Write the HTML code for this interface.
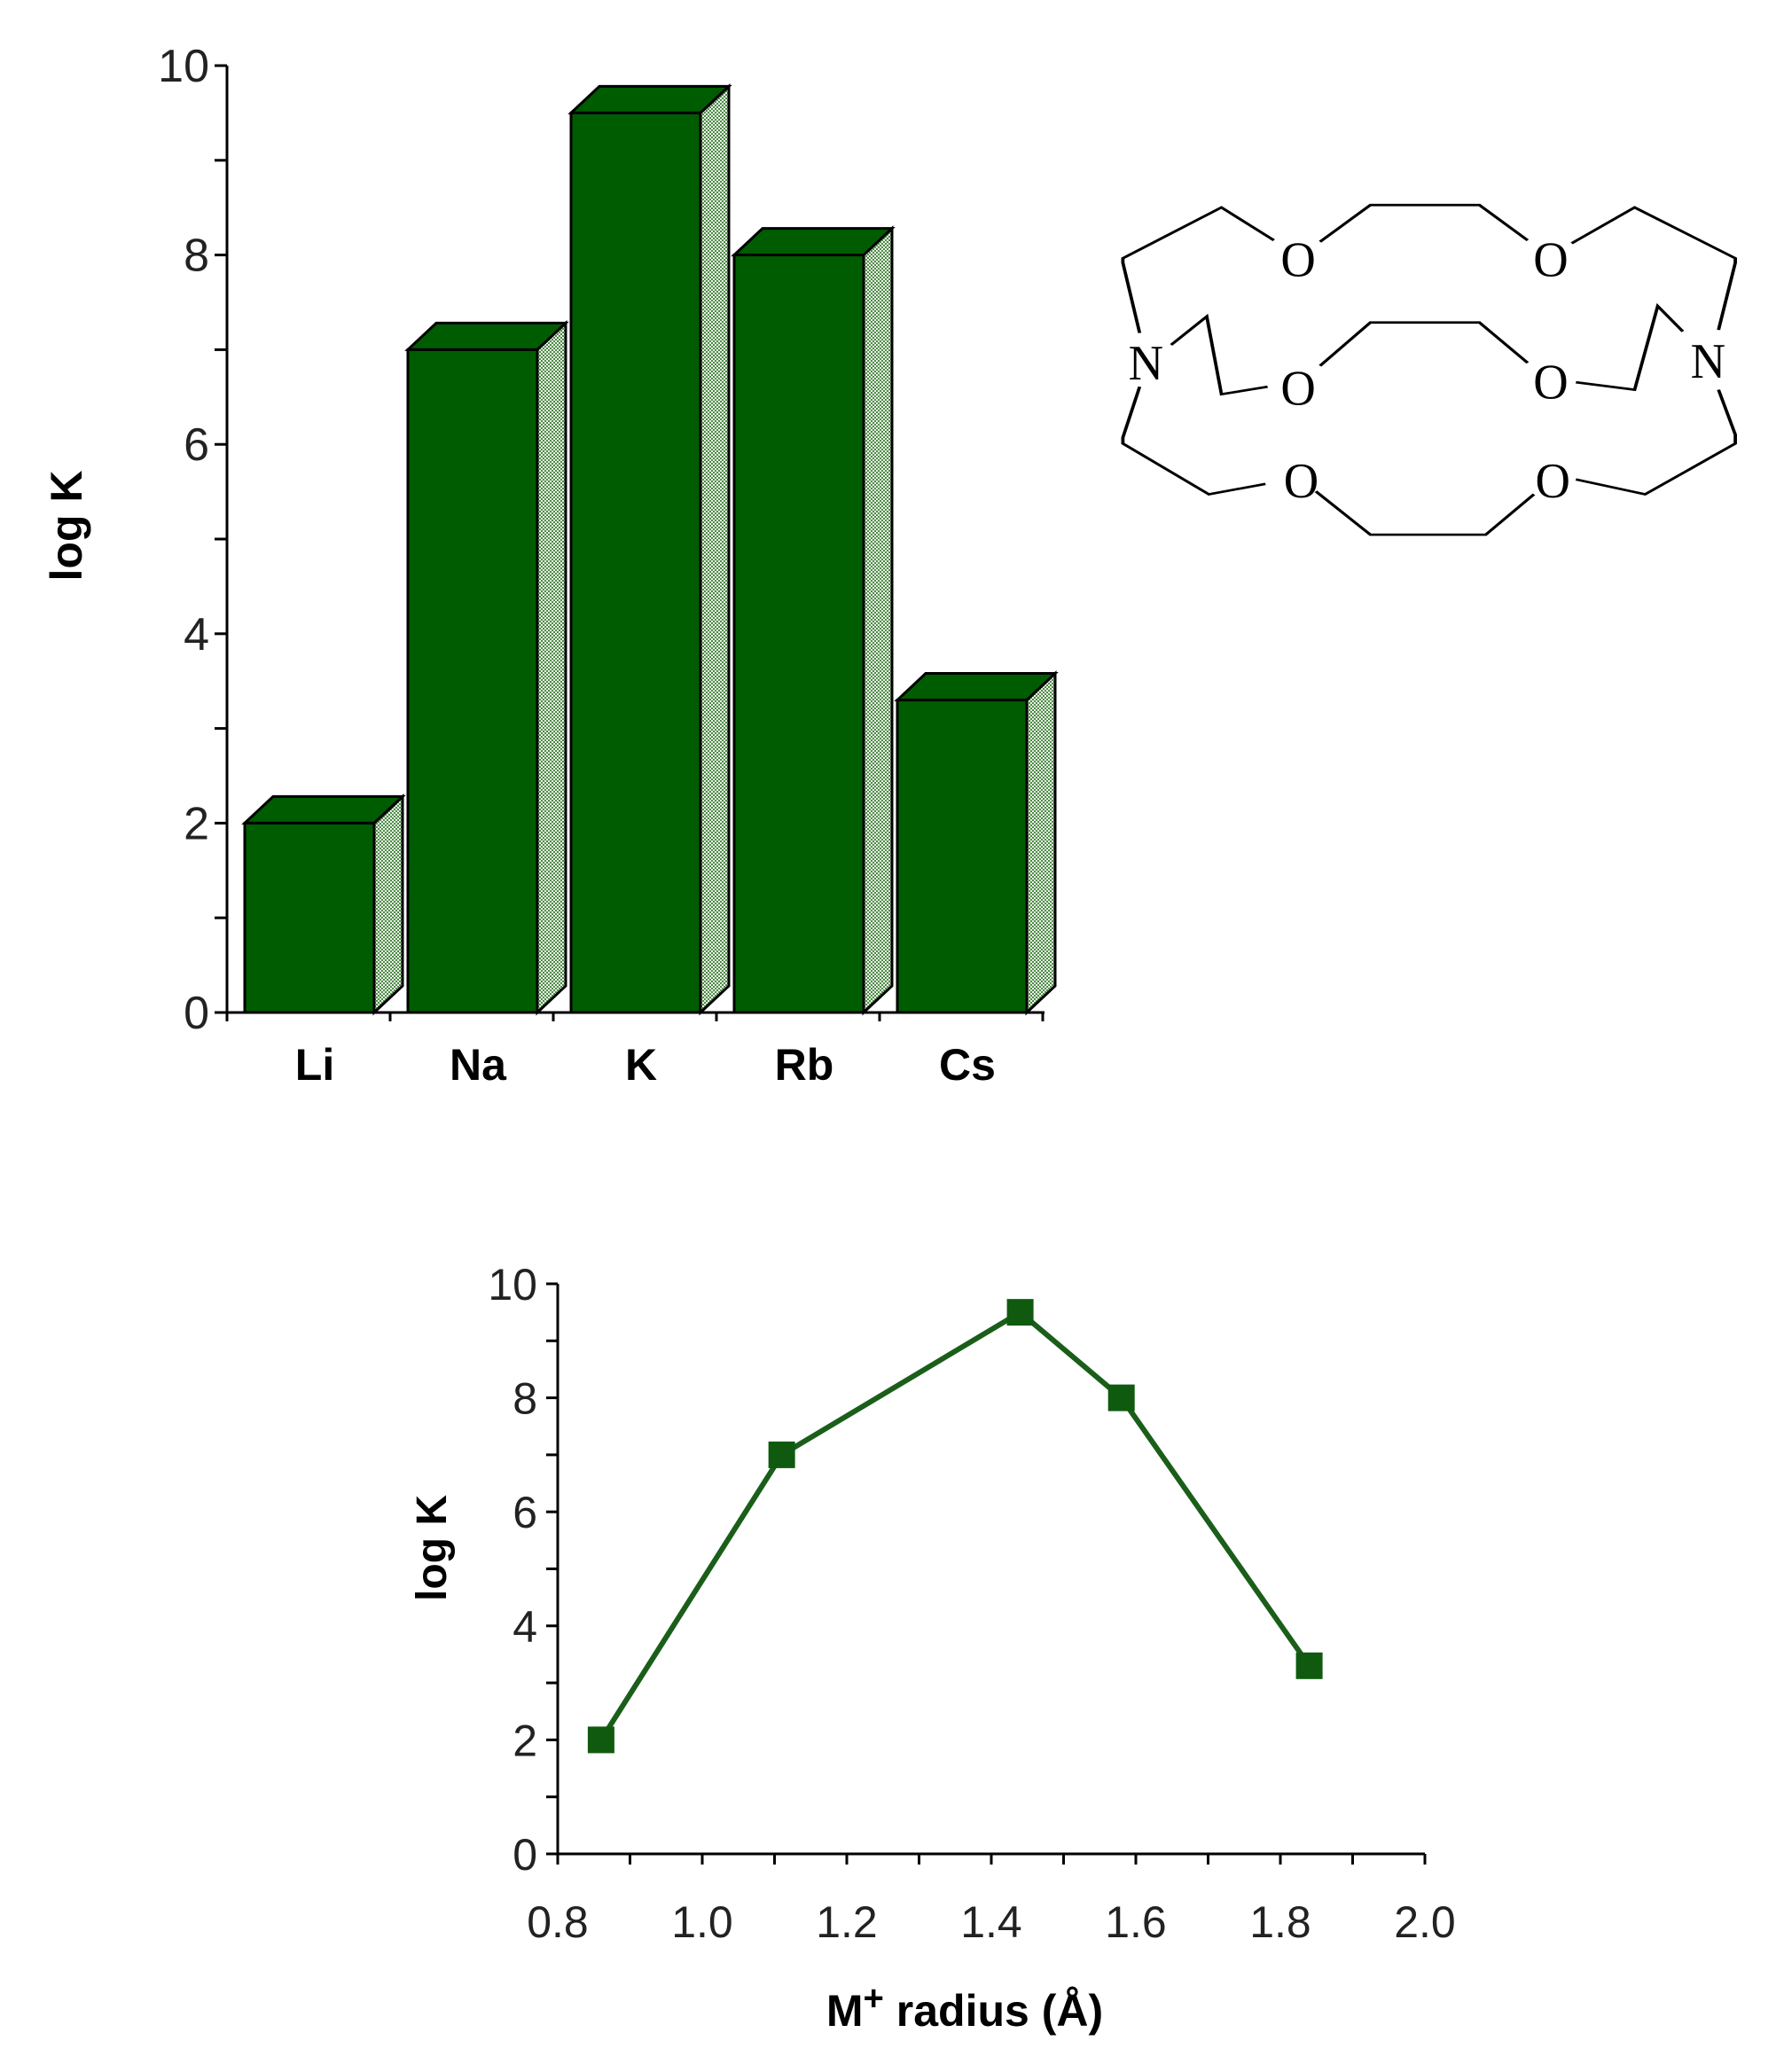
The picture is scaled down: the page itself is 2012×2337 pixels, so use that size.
<!DOCTYPE html>
<html><head><meta charset="utf-8"><style>
html,body{margin:0;padding:0;background:#fff;}
svg{display:block;font-family:"Liberation Sans",Arial,sans-serif;}
</style></head><body>
<svg id="root" width="2012" height="2337" viewBox="0 0 2012 2337" xmlns="http://www.w3.org/2000/svg">
<defs>
<pattern id="hatch" width="4" height="4" patternUnits="userSpaceOnUse">
<rect width="4" height="4" fill="#e8f4e4"/><rect width="2" height="2" fill="#4f8a4a"/><rect x="2" y="2" width="2" height="2" fill="#4f8a4a"/>
</pattern>
</defs>
<g id="bar-chart"></g>
<g id="line-chart"></g>
<svg x="1238" y="207" width="738" height="420" viewBox="0 0 1560 1246" preserveAspectRatio="none">
<g fill="none" stroke="#000" stroke-width="8">
<polyline points="100,500 60,265 60,250 295,80 420,190"/>
<polyline points="530,195 650,72 910,72 1025,190"/>
<polyline points="1130,200 1280,80 1520,250 1520,265 1480,490"/>
<polyline points="100,680 60,850 60,870 265,1040 400,1005"/>
<polyline points="520,1030 650,1175 925,1175 1040,1040"/>
<polyline points="1140,990 1305,1040 1520,870 1520,840 1480,690"/>
<polyline points="175,540 260,445 295,705 405,680"/>
<polyline points="530,610 650,465 910,465 1025,600"/>
<polyline points="1140,665 1280,690 1335,410 1395,495"/>
</g>
<g font-family="Liberation Serif,serif" font-size="165" text-anchor="middle" fill="#000">
<text transform="translate(478,310) scale(0.7,1)">O</text><text transform="translate(1080,310) scale(0.7,1)">O</text>
<text transform="translate(478,740) scale(0.7,1)">O</text><text transform="translate(1080,720) scale(0.7,1)">O</text>
<text transform="translate(485,1050) scale(0.7,1)">O</text><text transform="translate(1085,1050) scale(0.7,1)">O</text>
<text transform="translate(115,655) scale(0.7,1)">N</text><text transform="translate(1455,650) scale(0.7,1)">N</text>
</g>
</svg>
</svg>
<script>
const NS="http://www.w3.org/2000/svg";
// bar chart data
const barCategories=["Li","Na","K","Rb","Cs"];
const barValues=[2.0,7.0,9.5,8.0,3.3];
const barYTicks=[0,2,4,6,8,10];
// line chart data
const lineX=[0.86,1.11,1.44,1.58,1.84];
const lineY=[2.0,7.0,9.5,8.0,3.3];
const lineXTicks=["0.8","1.0","1.2","1.4","1.6","1.8","2.0"];
const lineYTicks=[0,2,4,6,8,10];

function mk(parent,tag,attrs,text){const e=document.createElementNS(NS,tag);for(const k in attrs)e.setAttribute(k,attrs[k]);if(text!==undefined)e.textContent=text;parent.appendChild(e);return e;}

// ---- bar chart ----
(function(){
const g=document.getElementById('bar-chart');
const y=v=>1142-v*106.8;
const x0=256,x1=1178,slot=184;
const ax=mk(g,'line',{x1:x0,y1:y(10),x2:x0,y2:y(0),stroke:'#000','stroke-width':3});

for(let v=0;v<=10;v++){mk(g,'line',{x1:x0-14,y1:y(v),x2:x0,y2:y(v),stroke:'#000','stroke-width':3});}
barYTicks.forEach(v=>{const t=mk(g,'text',{x:236,y:y(v)+18,'text-anchor':'end','font-size':52,fill:'#222'},String(v));

});
const yt=mk(g,'text',{x:0,y:0,transform:'translate(92,593) rotate(-90)','text-anchor':'middle','font-size':50,'font-weight':'bold'},'log K');


barValues.forEach((v,i)=>{
 const L=276+slot*i,W=146,dx=32,dy=30,T=y(v),B=y(0);
 const bg=mk(g,'g',{});
 
 
 mk(bg,'polygon',{points:`${L+W},${T} ${L+W+dx},${T-dy} ${L+W+dx},${B-dy} ${L+W},${B}`,fill:'url(#hatch)',stroke:'#000','stroke-width':3});
 mk(bg,'polygon',{points:`${L},${T} ${L+dx},${T-dy} ${L+W+dx},${T-dy} ${L+W},${T}`,fill:'#005c00',stroke:'#000','stroke-width':3});
 mk(bg,'rect',{x:L,y:T,width:W,height:B-T,fill:'#005c00',stroke:'#000','stroke-width':3});
 const lb=mk(g,'text',{x:L+W/2+6,y:1218,'text-anchor':'middle','font-size':50,'font-weight':'bold'},barCategories[i]);
 
 
});
const xa=mk(g,'line',{x1:x0,y1:y(0),x2:x1,y2:y(0),stroke:'#000','stroke-width':3});

for(let i=0;i<=barCategories.length;i++){const xx=x0+slot*i;mk(g,'line',{x1:xx,y1:y(0),x2:xx,y2:y(0)+10,stroke:'#000','stroke-width':3});}
})();

// ---- line chart ----
(function(){
const g=document.getElementById('line-chart');
const x=v=>629+(v-0.8)/0.2*163;
const y=v=>2091-v*64.3;
const ya=mk(g,'line',{x1:629,y1:y(10),x2:629,y2:y(0),stroke:'#000','stroke-width':3});

const xa=mk(g,'line',{x1:629,y1:y(0),x2:x(2.0),y2:y(0),stroke:'#000','stroke-width':3});

for(let v=0;v<=10;v++)mk(g,'line',{x1:616,y1:y(v),x2:629,y2:y(v),stroke:'#000','stroke-width':3});
for(let k=0;k<=12;k++){const v=0.8+k*0.1;mk(g,'line',{x1:x(v),y1:y(0),x2:x(v),y2:y(0)+12,stroke:'#000','stroke-width':3});}
lineYTicks.forEach(v=>{const t=mk(g,'text',{x:606,y:y(v)+18,'text-anchor':'end','font-size':50,fill:'#222'},String(v));

});
lineXTicks.forEach(s=>{const t=mk(g,'text',{x:x(parseFloat(s)),y:2185,'text-anchor':'middle','font-size':50,fill:'#222'},s);

});
const yt=mk(g,'text',{x:0,y:0,transform:'translate(503,1746) rotate(-90)','text-anchor':'middle','font-size':48,'font-weight':'bold'},'log K');


const xt=mk(g,'text',{x:1088,y:2285,'text-anchor':'middle','font-size':50,'font-weight':'bold'});


xt.innerHTML='M<tspan dy="-18" font-size="40">+</tspan><tspan dy="18"> radius (Å)</tspan>';
const pts=lineX.map((v,i)=>x(v)+','+y(lineY[i])).join(' ');
const pl=mk(g,'polyline',{points:pts,fill:'none',stroke:'#1a5e1a','stroke-width':6});


lineX.forEach((v,i)=>{const r=mk(g,'rect',{x:x(v)-15,y:y(lineY[i])-15,width:30,height:30,fill:'#0f5a0f'});

});
})();
</script>
</body></html>
